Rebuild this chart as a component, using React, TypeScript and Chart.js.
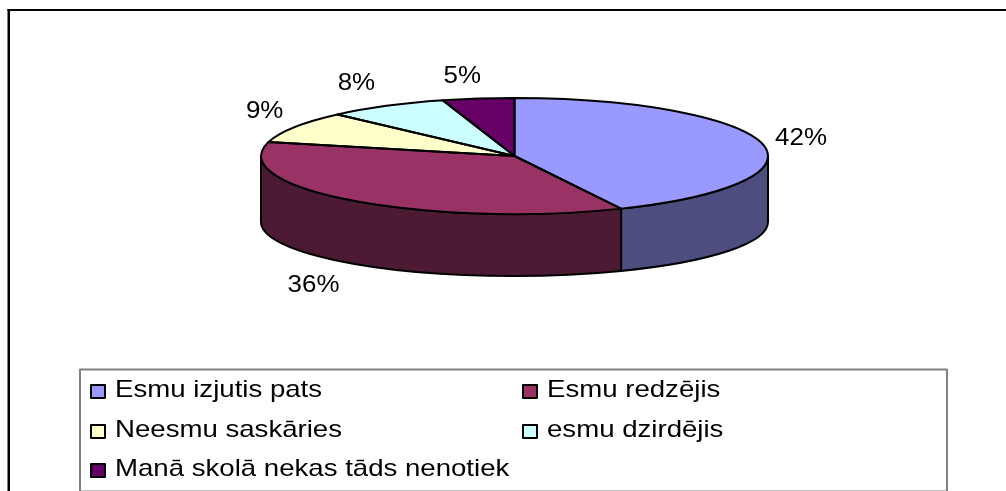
import React, { useEffect, useRef } from "react";
import { Chart, registerables } from "chart.js";

Chart.register(...registerables);

const categories = ["Esmu izjutis pats", "Esmu redzējis", "Neesmu saskāries", "esmu dzirdējis", "Manā skolā nekas tāds nenotiek"];
const shares = [42, 36, 9, 8, 5];
const topColors = ["#9999FF", "#993366", "#FFFFCC", "#CCFFFF", "#660066"];
const sideColors = ["#4D4D80", "#4D1A33", "#80805F", "#668080", "#330033"];

const FONT = '"Liberation Sans", Arial, sans-serif';
const TOP = { x: 514.5, y: 156, rx: 253.5, ry: 58 };
const BOTTOM = { x: 514.5, y: 222, rx: 253.5, ry: 54 };
const LABEL_OFFSET = [[39, -5.5], [-39.5, 85], [-30, -15.6], [-30, -23], [-16, -22]];

// Excel's 3D perspective pushes slice boundaries slightly around the rim.
const perspectiveAngle = (a: number) => {
  const t = a + Math.PI / 2;
  const bounded = Math.max(0, Math.min(2 * Math.PI, t));
  return a + ((4 * Math.PI) / 180) * Math.sqrt(Math.sin(bounded / 2));
};

const stretchedText = (ctx: CanvasRenderingContext2D, text: string, x: number, y: number, size: number, sx: number, align: CanvasTextAlign, base: CanvasTextBaseline) => {
  ctx.save();
  ctx.translate(x, y);
  ctx.scale(sx, 1);
  ctx.font = `${size}px ${FONT}`;
  ctx.fillStyle = "#000";
  ctx.textAlign = align;
  ctx.textBaseline = base;
  ctx.fillText(text, 0, 0);
  ctx.restore();
};

const pie3d = {
  id: "pie3d",
  afterDatasetUpdate(chart: any) {
    chart.getDatasetMeta(0).data.forEach((el: any) => {
      el.startAngle = perspectiveAngle(el.startAngle);
      el.endAngle = perspectiveAngle(el.endAngle);
    });
  },
  beforeDraw(chart: any) {
    const ctx: CanvasRenderingContext2D = chart.ctx;
    ctx.save();
    ctx.fillStyle = "#fff";
    ctx.fillRect(0, 0, chart.width, chart.height);
    ctx.fillStyle = "#000";
    ctx.fillRect(7.5, 9, chart.width - 7.5, 2);
    ctx.fillRect(7.5, 9, 2.5, chart.height - 9);
    ctx.restore();
  },
  beforeDatasetsDraw(chart: any) {
    const ctx: CanvasRenderingContext2D = chart.ctx;
    const arcs = chart.getDatasetMeta(0).data;
    ctx.save();
    ctx.lineWidth = 2;
    ctx.strokeStyle = "#000";
    ctx.lineJoin = "round";
    arcs.forEach((el: any, i: number) => {
      const a = Math.max(el.startAngle, 0);
      const b = Math.min(el.endAngle, Math.PI);
      if (b <= a) return;
      ctx.beginPath();
      ctx.ellipse(TOP.x, TOP.y, TOP.rx, TOP.ry, 0, a, b);
      ctx.lineTo(BOTTOM.x + BOTTOM.rx * Math.cos(b), BOTTOM.y + BOTTOM.ry * Math.sin(b));
      ctx.ellipse(BOTTOM.x, BOTTOM.y, BOTTOM.rx, BOTTOM.ry, 0, b, a, true);
      ctx.closePath();
      ctx.fillStyle = sideColors[i];
      ctx.fill();
      ctx.stroke();
    });
    ctx.restore();
  },
  beforeDatasetDraw(chart: any) {
    const ctx: CanvasRenderingContext2D = chart.ctx;
    const el = chart.getDatasetMeta(0).data[0];
    ctx.save();
    ctx.translate(TOP.x, TOP.y);
    ctx.scale(TOP.rx / el.outerRadius, TOP.ry / el.outerRadius);
    ctx.translate(-el.x, -el.y);
  },
  afterDatasetDraw(chart: any) {
    chart.ctx.restore();
  },
  afterDatasetsDraw(chart: any) {
    const ctx: CanvasRenderingContext2D = chart.ctx;
    const arcs = chart.getDatasetMeta(0).data;
    ctx.save();
    ctx.lineWidth = 2;
    ctx.strokeStyle = "#000";
    ctx.lineJoin = "round";
    arcs.forEach((el: any) => {
      ctx.beginPath();
      ctx.moveTo(TOP.x, TOP.y);
      ctx.ellipse(TOP.x, TOP.y, TOP.rx, TOP.ry, 0, el.startAngle, el.endAngle);
      ctx.closePath();
      ctx.stroke();
    });
    arcs.forEach((el: any, i: number) => {
      const mid = (el.startAngle + el.endAngle) / 2;
      const px = TOP.x + TOP.rx * Math.cos(mid) + LABEL_OFFSET[i][0];
      const py = TOP.y + TOP.ry * Math.sin(mid) + LABEL_OFFSET[i][1];
      stretchedText(ctx, `${shares[i]}%`, px, py, 24, 1.08, "center", "middle");
    });

    // legend: three grey sides and a pale bottom edge cut by the picture's end
    ctx.strokeStyle = "#808080";
    ctx.lineWidth = 2;
    ctx.beginPath();
    ctx.moveTo(80, 491);
    ctx.lineTo(80, 369.5);
    ctx.lineTo(947, 369.5);
    ctx.lineTo(947, 491);
    ctx.stroke();
    ctx.fillStyle = "#C0C0C0";
    ctx.fillRect(81, 490, 865, 1);
    const colX = [90, 522];
    const rowY = [384, 424, 463];
    categories.forEach((name, i) => {
      const x = colX[i % 2];
      const y = rowY[Math.floor(i / 2)];
      ctx.fillStyle = topColors[i];
      ctx.strokeStyle = "#000";
      ctx.lineWidth = 2;
      ctx.fillRect(x + 1, y + 1, 14, 13);
      ctx.strokeRect(x + 1, y + 1, 14, 13);
      stretchedText(ctx, name, x + 25, y + 13, 24, 1.15, "left", "alphabetic");
    });
    ctx.restore();
  },
};

export default function App() {
  const ref = useRef<HTMLCanvasElement>(null);
  useEffect(() => {
    document.body.style.margin = "0";
    const chart = new Chart(ref.current!, {
      type: "pie",
      data: {
        labels: categories,
        datasets: [{ data: shares, backgroundColor: topColors, borderWidth: 0 }],
      },
      options: {
        responsive: false,
        animation: false,
        plugins: { legend: { display: false }, tooltip: { enabled: false } },
      },
      plugins: [pie3d],
    } as any);
    return () => chart.destroy();
  }, []);
  return <canvas ref={ref} width={1006} height={491} style={{ display: "block" }} />;
}
